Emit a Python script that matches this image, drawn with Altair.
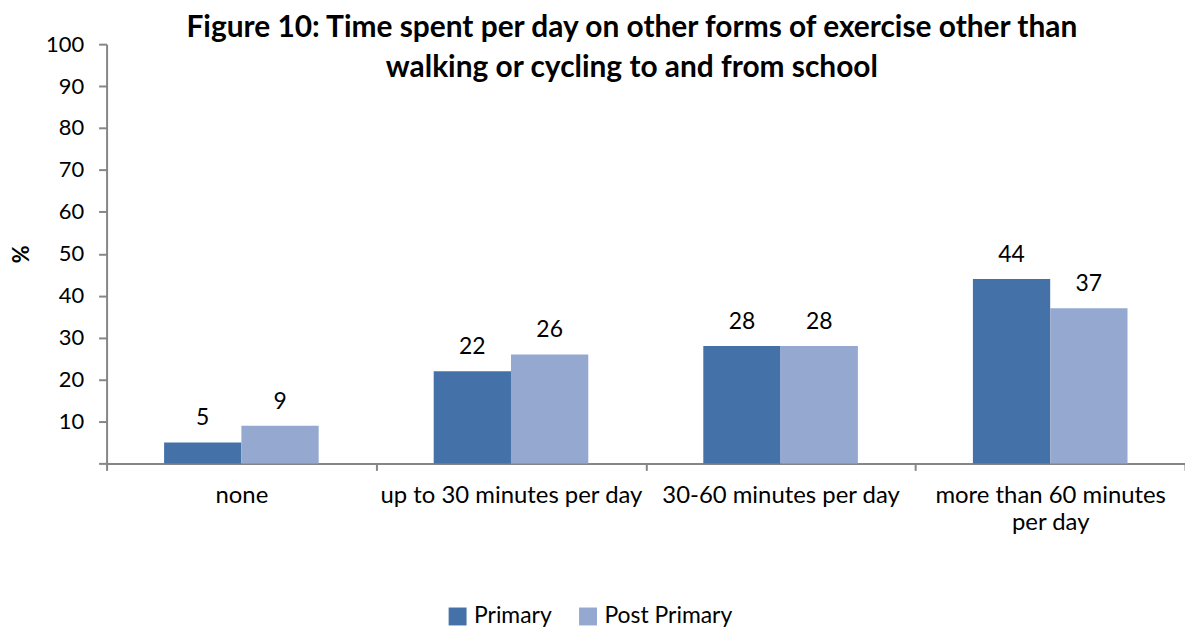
import altair as alt
import pandas as pd

categories = ["none", "up to 30 minutes per day", "30-60 minutes per day", "more than  60 minutes per day"]
groups = ["Primary", "Post Primary"]
primary = [5, 22, 28, 44]
post_primary = [9, 26, 28, 37]
colors = ["#4472A8", "#95A9D0"]

rows = []
for c, p, q in zip(categories, primary, post_primary):
    rows.append({"category": c, "group": "Primary", "value": p})
    rows.append({"category": c, "group": "Post Primary", "value": q})
df = pd.DataFrame(rows)

FONT = "Lato"

x = alt.X(
    "category:N",
    sort=categories,
    scale=alt.Scale(paddingInner=0, paddingOuter=0),
    axis=alt.Axis(
        title=None,
        labelAngle=0,
        labelFont=FONT,
        labelFontSize=24,
        labelColor="#000000",
        labelPadding=13,
        labelLineHeight=27,
        labelLimit=0,
        labelExpr="datum.label == 'more than  60 minutes per day' ? ['more than  60 minutes', 'per day'] : datum.label",
        tickBand="extent",
        tickSize=7,
        tickWidth=2,
        tickColor="#868686",
        domainColor="#868686",
        domainWidth=2,
    ),
)
xo = alt.XOffset("group:N", sort=groups, scale=alt.Scale(paddingOuter=0.744, paddingInner=0))
y = alt.Y(
    "value:Q",
    scale=alt.Scale(domain=[0, 100], nice=False),
    axis=alt.Axis(
        title="%",
        titleFont=FONT,
        titleFontSize=22,
        titleFontWeight="bold",
        titleColor="#000000",
        titlePadding=12,
        values=list(range(0, 101, 10)),
        labelExpr="datum.value == 0 ? '' : datum.label",
        labelFont=FONT,
        labelFontSize=22,
        labelColor="#000000",
        labelPadding=15,
        tickSize=8,
        tickWidth=2,
        tickColor="#868686",
        domainColor="#868686",
        domainWidth=2,
        grid=False,
    ),
)

bars = alt.Chart(df).mark_bar().encode(
    x=x,
    xOffset=xo,
    y=y,
    color=alt.Color(
        "group:N",
        sort=groups,
        scale=alt.Scale(domain=groups, range=colors),
        legend=alt.Legend(
            title=None,
            orient="none",
            legendX=341,
            legendY=563,
            direction="horizontal",
            symbolType="square",
            symbolSize=324,
            symbolStrokeWidth=0,
            labelFont=FONT,
            labelFontSize=23,
            labelColor="#000000",
            labelOffset=5,
            columnPadding=24,
            labelLimit=0,
        ),
    ),
)

labels = alt.Chart(df).mark_text(
    font=FONT, fontSize=23, color="#000000", baseline="alphabetic", dy=-17
).encode(
    x=alt.X("category:N", sort=categories),
    xOffset=alt.XOffset("group:N", sort=groups),
    y="value:Q",
    text="value:Q",
)

chart = (
    alt.layer(bars, labels)
    .properties(
        width=1083,
        height=421,
        title=alt.TitleParams(
            ["Figure 10: Time spent per day on other forms of exercise other than",
             "walking or cycling to and from school"],
            font=FONT,
            fontSize=30,
            fontWeight="bold",
            color="#000000",
            lineHeight=40,
            anchor="middle",
            frame="group",
            dx=-14,
            baseline="top",
            offset=-50,
        ),
        autosize=alt.AutoSizeParams(type="none"),
        padding={"left": 99, "top": 35, "right": 0, "bottom": 164},
    )
    .configure_view(stroke=None)
)

chart.save("out.html", embed_options={"renderer": "svg", "actions": False})
